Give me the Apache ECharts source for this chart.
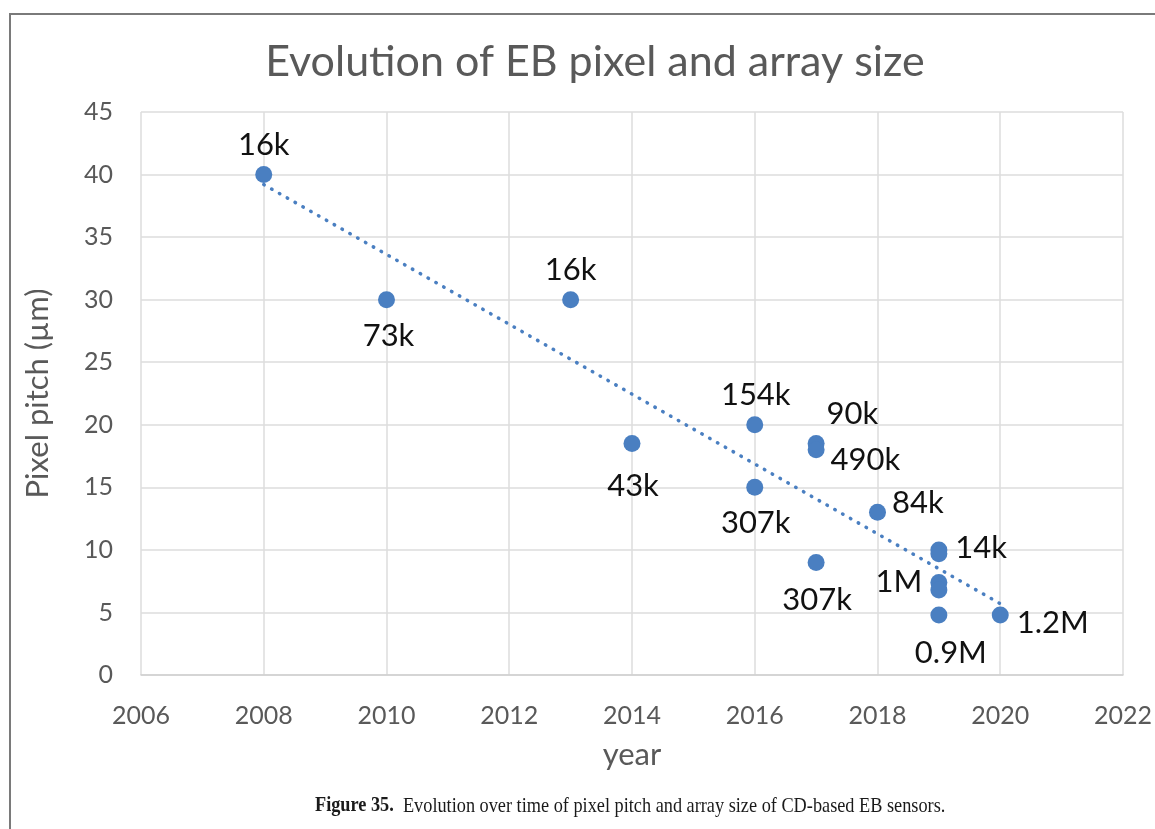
<!DOCTYPE html>
<html>
<head>
<meta charset="utf-8">
<script src="https://cdn.jsdelivr.net/npm/echarts@6/dist/echarts.min.js"></script>
<style>
  html, body { margin: 0; padding: 0; background: #fff; }
  #chart { width: 1155px; height: 829px; }
</style>
</head>
<body>
<div id="chart"></div>
<script>
// Sensor data: year of publication, pixel pitch (µm), array size label
const years      = [2008, 2010, 2013, 2014, 2016, 2016, 2017, 2017, 2017, 2018, 2019, 2019, 2019, 2019, 2019, 2020];
const pitch      = [40,   30,   30,   18.5, 20,   15,   18.5, 18,   9,    13,   10,   9.7,  7.4,  6.8,  4.8,  4.8];
const arraySizes = ['16k','73k','16k','43k','154k','307k','90k','490k','307k','84k','14k','','1M','','0.9M','1.2M'];

// Linear trend line end points
const trendYears = [2008, 2020];
const trendPitch = [39.2, 5.7];

// Axis ticks
const xTicks = [2006, 2008, 2010, 2012, 2014, 2016, 2018, 2020, 2022];
const yTicks = [0, 5, 10, 15, 20, 25, 30, 35, 40, 45];

// Where each point's label sits relative to its marker
const labelPlacement = [
  { position: 'top',    offset: [0, 2] },
  { position: 'bottom', offset: [2, 4] },
  { position: 'top',    offset: [0, 2] },
  { position: 'bottom', offset: [1, 10] },
  { position: 'top',    offset: [1, 2] },
  { position: 'bottom', offset: [1, 4] },
  { position: 'right',  offset: [-6, -30] },
  { position: 'right',  offset: [-2, 10] },
  { position: 'bottom', offset: [1, 6] },
  { position: 'right',  offset: [-2, -9] },
  { position: 'right',  offset: [0, -2] },
  { position: 'right',  offset: [0, 0] },
  { position: 'left',   offset: [0, 0] },
  { position: 'left',   offset: [0, 0] },
  { position: 'bottom', offset: [12, 6] },
  { position: 'right',  offset: [0, 8] }
];

const blue = '#4a7fc1';
const grey = '#595959';

const points = years.map((y, i) => ({
  value: [y, pitch[i]],
  label: {
    show: arraySizes[i] !== '',
    formatter: arraySizes[i],
    position: labelPlacement[i].position,
    offset: labelPlacement[i].offset,
    distance: 8
  }
}));

const chart = echarts.init(document.getElementById('chart'));
chart.setOption({
  backgroundColor: '#fff',
  animation: false,
  title: {
    text: 'Evolution of EB pixel and array size',
    left: 590,
    textAlign: 'center',
    top: 36,
    textStyle: { fontFamily: 'Lato', fontWeight: 'normal', fontSize: 43, color: grey }
  },
  grid: { left: 141, right: 31, top: 112, bottom: 154 },
  xAxis: {
    type: 'value',
    min: xTicks[0],
    max: xTicks[xTicks.length - 1],
    interval: 2,
    name: 'year',
    nameLocation: 'middle',
    nameGap: 64,
    nameTextStyle: { fontFamily: 'Lato', fontSize: 31, color: grey },
    axisLine: { show: true, lineStyle: { color: '#d0d0d0', width: 1.5 } },
    axisTick: { show: false },
    axisLabel: { fontFamily: 'Lato', fontSize: 25, color: grey, margin: 28, formatter: v => String(v) },
    splitLine: { show: true, lineStyle: { color: '#dcdcdc', width: 1.5 } }
  },
  yAxis: {
    type: 'value',
    min: yTicks[0],
    max: yTicks[yTicks.length - 1],
    interval: 5,
    name: 'Pixel pitch (µm)',
    nameLocation: 'middle',
    nameGap: 88,
    nameTextStyle: { fontFamily: 'Lato', fontSize: 31, color: grey },
    axisLine: { show: false },
    axisTick: { show: false },
    axisLabel: { fontFamily: 'Lato', fontSize: 25, color: grey, margin: 28 },
    splitLine: { show: true, lineStyle: { color: '#dcdcdc', width: 1.5 } }
  },
  series: [
    {
      type: 'line',
      data: trendYears.map((y, i) => [y, trendPitch[i]]),
      symbol: 'none',
      lineStyle: { color: blue, width: 3.5, type: [0.5, 8.5], cap: 'round' },
      z: 3,
      silent: true
    },
    {
      type: 'scatter',
      data: points,
      symbol: 'circle',
      symbolSize: 17,
      itemStyle: { color: blue, opacity: 1 },
      label: { fontFamily: 'Lato', fontSize: 31, color: '#111' },
      z: 4
    }
  ],
  graphic: [
    {
      type: 'rect',
      shape: { x: 10, y: 14, width: 1200, height: 900 },
      style: { fill: 'none', stroke: '#7a7a7a', lineWidth: 2 },
      silent: true
    },
    {
      type: 'text',
      x: 315,
      y: 806,
      scaleX: 0.87,
      originX: 0,
      originY: 0,
      style: {
        text: '{b|Figure 35.}  Evolution over time of pixel pitch and array size of CD-based EB sensors.',
        align: 'left',
        verticalAlign: 'middle',
        fontFamily: 'Liberation Serif',
        fontSize: 21,
        fill: '#1a1a1a',
        rich: { b: { fontFamily: 'Liberation Serif', fontWeight: 'bold', fontSize: 21, fill: '#1a1a1a' } }
      }
    }
  ]
});
</script>
</body>
</html>
